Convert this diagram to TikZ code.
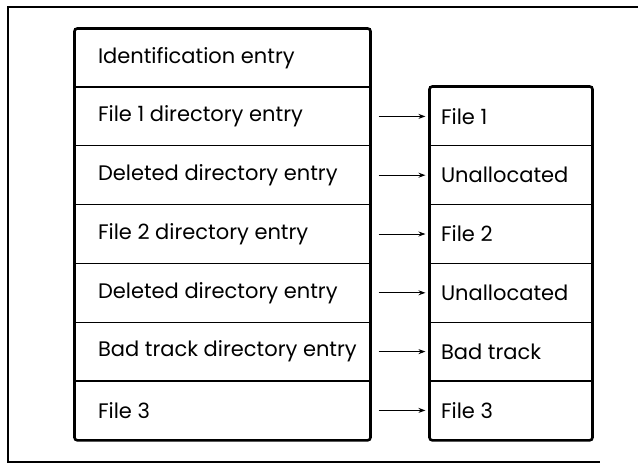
\documentclass[tikz,border=0pt]{standalone}
\usepackage{fontspec}
\setmainfont{Poppins}
\usetikzlibrary{arrows.meta}
\newcommand{\lcell}[1]{\makebox[249pt][l]{#1}}
\newcommand{\rcell}[1]{\makebox[140pt][l]{#1}}
\begin{document}
\begin{tikzpicture}[x=1pt,y=-1pt,
  rowbase/.style={draw=black,line width=1.1pt,rectangle,minimum height=58.8pt,anchor=center,
    font=\fontsize{21}{24}\selectfont,inner ysep=0pt},
  lrow/.style={rowbase,minimum width=295pt,inner xsep=23pt},
  rrow/.style={rowbase,minimum width=162pt,inner xsep=11pt},
  frameline/.style={line width=2.6pt,rounded corners=3pt},
  outer/.style={line width=2.2pt},
  arr/.style={line width=1pt,-{Stealth[length=7pt,width=5pt]},shorten <=8pt,shorten >=4pt}]
\useasboundingbox (0,0) rectangle (638,464);
% outer frame (open on the right)
\draw[outer] (638,7) -- (8,7) -- (8,462) -- (600,462);
% left column
\node[lrow,minimum height=58pt] (l1) at (222.5,58) {\lcell{Identification entry}};
\node[lrow] (l2) at (222.5,116.4) {\lcell{File 1 directory entry}};
\node[lrow] (l3) at (222.5,175.2) {\lcell{Deleted directory entry}};
\node[lrow] (l4) at (222.5,234) {\lcell{File 2 directory entry}};
\node[lrow] (l5) at (222.5,292.8) {\lcell{Deleted directory entry}};
\node[lrow] (l6) at (222.5,351.6) {\lcell{Bad track directory entry}};
\node[lrow] (l7) at (222.5,410.4) {\lcell{File 3}};
% right column
\node[rrow] (r1) at (511,116.4) {\rcell{File 1}};
\node[rrow] (r2) at (511,175.2) {\rcell{Unallocated}};
\node[rrow] (r3) at (511,234) {\rcell{File 2}};
\node[rrow] (r4) at (511,292.8) {\rcell{Unallocated}};
\node[rrow] (r5) at (511,351.6) {\rcell{Bad track}};
\node[rrow] (r6) at (511,410.4) {\rcell{File 3}};
% thick borders
\draw[frameline] (l1.north west) rectangle (l7.south east);
\draw[frameline] (r1.north west) rectangle (r6.south east);
% arrows
\draw[arr] (l2) -- (r1);
\draw[arr] (l3) -- (r2);
\draw[arr] (l4) -- (r3);
\draw[arr] (l5) -- (r4);
\draw[arr] (l6) -- (r5);
\draw[arr] (l7) -- (r6);
\end{tikzpicture}
\end{document}
